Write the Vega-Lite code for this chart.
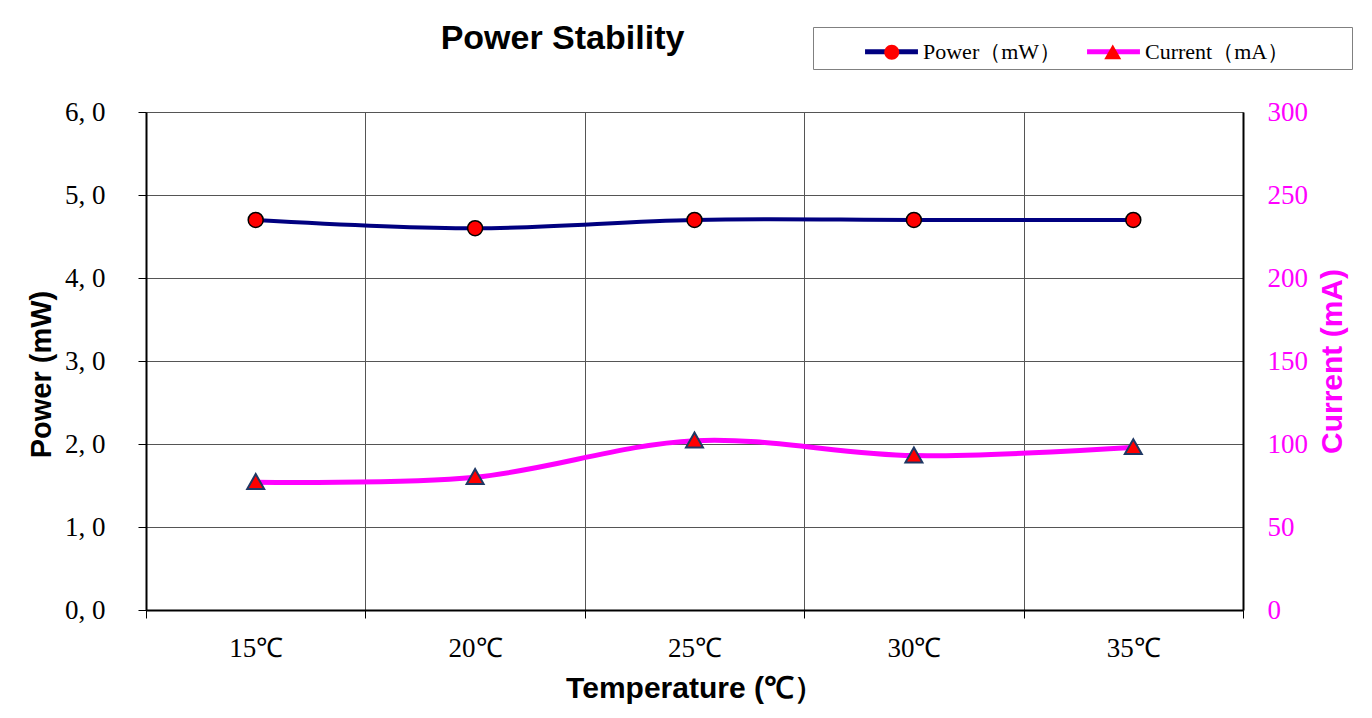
{
  "$schema": "https://vega.github.io/schema/vega-lite/v6.json",
  "width": 1097,
  "height": 498,
  "autosize": {"type": "none"},
  "padding": {"left": 146, "top": 112, "right": 129, "bottom": 108},
  "background": "white",
  "config": {
    "view": {"stroke": null},
    "axis": {"gridColor": "#555555", "gridWidth": 1, "gridOpacity": 1, "domainColor": "#000000", "domainWidth": 2, "tickColor": "#000000"}
  },
  "title": {
    "text": "Power Stability",
    "font": "Liberation Sans",
    "fontSize": 34,
    "fontWeight": "bold",
    "color": "#000000",
    "anchor": "middle",
    "frame": "group",
    "dx": -132,
    "dy": 114,
    "baseline": "alphabetic",
    "offset": 58
  },
  "data": {
    "values": [
      {"temp": "15℃", "power": 4.7, "current": 77},
      {"temp": "20℃", "power": 4.6, "current": 80},
      {"temp": "25℃", "power": 4.7, "current": 102},
      {"temp": "30℃", "power": 4.7, "current": 93},
      {"temp": "35℃", "power": 4.7, "current": 98}
    ]
  },
  "encoding": {
    "x": {
      "field": "temp",
      "type": "nominal",
      "sort": null,
      "scale": {"type": "band", "paddingInner": 0, "paddingOuter": 0},
      "axis": {
        "title": "Temperature (℃）",
        "titleFont": "Liberation Sans",
        "titleFontSize": 30,
        "titleFontWeight": "bold",
        "titleColor": "#000000",
        "titlePadding": 12,
        "labelFont": "Liberation Serif",
        "labelFontSize": 27,
        "labelColor": "#000000",
        "labelAngle": 0,
        "labelPadding": 17,
        "tickBand": "extent",
        "tickSize": 8,
        "grid": true
      }
    }
  },
  "layer": [
    {
      "encoding": {
        "y": {
          "field": "power",
          "type": "quantitative",
          "scale": {"domain": [0, 6], "nice": false, "zero": true},
          "axis": {
            "title": "Power (mW)",
            "orient": "left",
            "values": [0, 1, 2, 3, 4, 5, 6],
            "labelExpr": "replace(format(datum.value, '.1f'), '.', ', ')",
            "labelFont": "Liberation Serif",
            "labelFontSize": 27,
            "labelColor": "#000000",
            "labelPadding": 33,
            "tickSize": 8,
            "titleFont": "Liberation Sans",
            "titleFontSize": 29,
            "titleFontWeight": "bold",
            "titleColor": "#000000",
            "titlePadding": 8,
            "titleY": 262,
            "grid": true
          }
        }
      },
      "layer": [
        {
          "mark": {"type": "line", "interpolate": "catmull-rom", "strokeWidth": 4},
          "encoding": {
            "color": {
              "datum": "Power（mW）",
              "type": "nominal",
              "scale": {"domain": ["Power（mW）", "Current（mA）"], "range": ["#000080", "#FF00FF"]},
              "legend": {
                "title": null,
                "orient": "none",
                "legendX": 725,
                "legendY": -81,
                "direction": "horizontal",
                "padding": 0,
                "symbolOffset": 0,
                "symbolType": "M-1.47,0H1.47",
                "symbolSize": 1296,
                "symbolStrokeWidth": 5,
                "labelFont": "Liberation Serif",
                "labelFontSize": 22,
                "labelColor": "#000000",
                "labelOffset": 11,
                "labelLimit": 300,
                "columnPadding": 15
              }
            }
          }
        },
        {
          "mark": {"type": "point", "filled": true, "fill": "#FF0000", "stroke": "#000000", "strokeWidth": 1.5, "opacity": 1, "size": 1296},
          "encoding": {
            "shape": {
              "datum": "P",
              "type": "nominal",
              "scale": {
                "domain": ["P", "C"],
                "range": ["M-0.416,0A0.416,0.416,0,1,0,0.416,0A0.416,0.416,0,1,0,-0.416,0Z", "M0,-0.45L0.472,0.378L-0.472,0.378Z"]
              },
              "legend": {
                "title": null,
                "orient": "none",
                "legendX": 667,
                "legendY": -85,
                "direction": "horizontal",
                "padding": 6,
                "symbolOffset": 53.75,
                "symbolSize": 1296,
                "symbolFillColor": "#FF0000",
                "symbolStrokeColor": "#000000",
                "symbolStrokeWidth": 1.5,
                "labelFont": "Liberation Mono",
                "labelFontSize": 20,
                "labelColor": "#000000",
                "labelOpacity": 0,
                "labelOffset": 10,
                "labelLimit": 400,
                "columnPadding": 11,
                "strokeColor": "#808080",
                "labelExpr": "datum.value === 'P' ? '000000000' : '00000000000000000'",
                "encode": {
                  "symbols": {"update": {"fill": {"value": "#FF0000"}, "opacity": {"value": 1}, "stroke": {"signal": "datum.value === 'P' ? '#000000' : '#1F3864'"}, "strokeWidth": {"signal": "datum.value === 'P' ? 1.5 : 2"}}}
                }
              }
            }
          }
        }
      ]
    },
    {
      "encoding": {
        "y": {
          "field": "current",
          "type": "quantitative",
          "scale": {"domain": [0, 300], "nice": false, "zero": true},
          "axis": {
            "title": "Current (mA)",
            "orient": "right",
            "values": [0, 50, 100, 150, 200, 250, 300],
            "labelFont": "Liberation Serif",
            "labelFontSize": 27,
            "labelColor": "#FF00FF",
            "labelPadding": 24,
            "ticks": false,
            "titleFont": "Liberation Sans",
            "titleFontSize": 30,
            "titleFontWeight": "bold",
            "titleColor": "#FF00FF",
            "titleAngle": 270,
            "titleBaseline": "top",
            "titlePadding": 10,
            "grid": false
          }
        }
      },
      "layer": [
        {
          "mark": {"type": "line", "interpolate": "catmull-rom", "strokeWidth": 5},
          "encoding": {
            "color": {"datum": "Current（mA）", "type": "nominal"}
          }
        },
        {
          "mark": {"type": "point", "filled": true, "fill": "#FF0000", "stroke": "#1F3864", "strokeWidth": 2, "opacity": 1, "size": 1296},
          "encoding": {
            "shape": {"datum": "C", "type": "nominal"}
          }
        }
      ]
    }
  ],
  "resolve": {"scale": {"y": "independent"}}
}
